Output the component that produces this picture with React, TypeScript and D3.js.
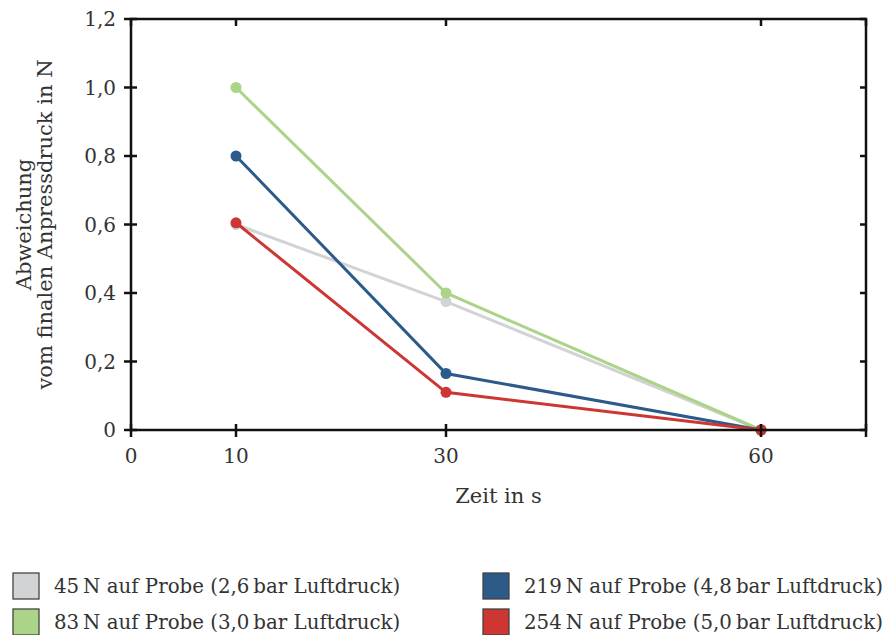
import React, { useEffect, useRef } from 'react';
import * as d3 from 'd3';

const times = [10, 30, 60];
const xTicks = [0, 10, 30, 60, 70];
const xTickLabels = ['0', '10', '30', '60', ''];
const yTicks = [0, 0.2, 0.4, 0.6, 0.8, 1.0, 1.2];

const labels = [
    '45\u2009N auf Probe (2,6\u2009bar Luftdruck)',
    '83\u2009N auf Probe (3,0\u2009bar Luftdruck)',
    '219\u2009N auf Probe (4,8\u2009bar Luftdruck)',
    '254\u2009N auf Probe (5,0\u2009bar Luftdruck)'
];
const colors = ['#d1d3d5', '#acd488', '#2c5a89', '#cd3632'];
const gray45 = [0.6, 0.375, 0];
const green83 = [1.0, 0.4, 0];
const blue219 = [0.8, 0.165, 0];
const red254 = [0.605, 0.11, 0];

const FONT = 'DejaVu Serif, serif';

const App = () => {
    const ref = useRef<SVGSVGElement>(null);

    useEffect(() => {
        const svg = d3.select(ref.current);
        svg.selectAll('*').remove();

        const margin = { top: 19, right: 24, bottom: 205, left: 131 };
        const width = 890;
        const height = 635;
        const innerW = width - margin.left - margin.right;
        const innerH = height - margin.top - margin.bottom;

        const xScale = d3.scaleLinear().domain([0, 70]).range([0, innerW]);
        const yScale = d3.scaleLinear().domain([0, 1.2]).range([innerH, 0]);

        const g = svg.append('g')
            .attr('transform', `translate(${margin.left}, ${margin.top})`);

        const series = [gray45, green83, blue219, red254];

        const line = d3.line<number>()
            .x((d, i) => xScale(times[i]))
            .y(d => yScale(d));

        series.forEach((vals, k) => {
            g.append('path')
                .attr('d', line(vals))
                .attr('fill', 'none')
                .attr('stroke', colors[k])
                .attr('stroke-width', 3);
            g.selectAll(null)
                .data(vals)
                .enter()
                .append('circle')
                .attr('cx', (d, i) => xScale(times[i]))
                .attr('cy', d => yScale(d))
                .attr('r', 5.5)
                .attr('fill', colors[k]);
        });

        // frame
        g.append('rect')
            .attr('x', 0)
            .attr('y', 0)
            .attr('width', innerW)
            .attr('height', innerH)
            .attr('fill', 'none')
            .attr('stroke', '#111')
            .attr('stroke-width', 2.5);

        // x ticks (bottom crossing, top inward)
        xTicks.forEach((t, i) => {
            const x = xScale(t);
            g.append('line')
                .attr('x1', x).attr('x2', x)
                .attr('y1', innerH - 6).attr('y2', innerH + 7)
                .attr('stroke', '#111').attr('stroke-width', 2.5);
            g.append('line')
                .attr('x1', x).attr('x2', x)
                .attr('y1', 0).attr('y2', 7)
                .attr('stroke', '#111').attr('stroke-width', 2.5);
            g.append('text')
                .attr('x', x)
                .attr('y', innerH + 33)
                .attr('text-anchor', 'middle')
                .attr('font-family', FONT)
                .attr('font-size', 20)
                .attr('fill', '#333')
                .text(xTickLabels[i]);
        });

        // y ticks
        yTicks.forEach(t => {
            const y = yScale(t);
            g.append('line')
                .attr('x1', -7).attr('x2', 6)
                .attr('y1', y).attr('y2', y)
                .attr('stroke', '#111').attr('stroke-width', 2.5);
            g.append('line')
                .attr('x1', innerW - 6).attr('x2', innerW)
                .attr('y1', y).attr('y2', y)
                .attr('stroke', '#111').attr('stroke-width', 2.5);
            g.append('text')
                .attr('x', -15)
                .attr('y', y + 7)
                .attr('text-anchor', 'end')
                .attr('font-family', FONT)
                .attr('font-size', 20)
                .attr('fill', '#333')
                .text(t === 0 ? '0' : d3.format('.1f')(t).replace('.', ','));
        });

        // axis titles
        svg.append('text')
            .attr('x', margin.left + xScale(35))
            .attr('y', 503)
            .attr('text-anchor', 'middle')
            .attr('font-family', FONT)
            .attr('font-size', 21)
            .attr('fill', '#333')
            .text('Zeit in s');

        const yTitle = svg.append('text')
            .attr('transform', `translate(31, ${margin.top + innerH / 2}) rotate(-90)`)
            .attr('text-anchor', 'middle')
            .attr('font-family', FONT)
            .attr('font-size', 21)
            .attr('fill', '#333');
        yTitle.append('tspan').attr('x', 0).attr('dy', 0).text('Abweichung');
        yTitle.append('tspan').attr('x', 0).attr('dy', 21).text('vom finalen Anpressdruck in N');

        // legend
        const legendPos = [
            [13, 573], [13, 609], [483, 573], [483, 609]
        ];
        labels.forEach((lab, k) => {
            const [lx, ly] = legendPos[k];
            svg.append('rect')
                .attr('x', lx).attr('y', ly)
                .attr('width', 26).attr('height', 26)
                .attr('fill', colors[k])
                .attr('stroke', '#444')
                .attr('stroke-width', 1.3);
            svg.append('text')
                .attr('x', lx + 41)
                .attr('y', ly + 20)
                .attr('font-family', FONT)
                .attr('font-size', 19.8)
                .attr('fill', '#333')
                .text(lab);
        });
    }, []);

    return (
        <svg ref={ref} width={890} height={635}
            style={{ position: 'absolute', left: 0, top: 0, background: '#fff' }} />
    );
};

export default App;
